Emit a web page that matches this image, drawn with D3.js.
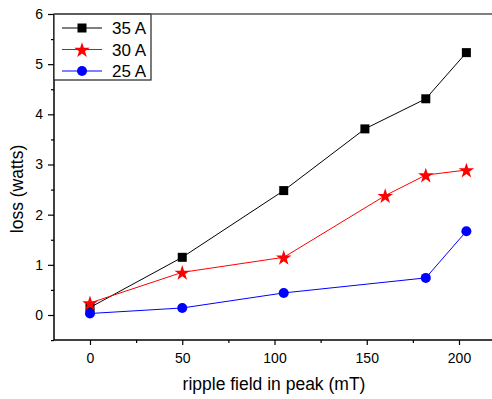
<!DOCTYPE html>
<html><head><meta charset="utf-8">
<script src="https://cdn.jsdelivr.net/npm/d3@7"></script>
<style>body{margin:0;background:#fff}svg{display:block;font-family:Arial,"Liberation Sans",sans-serif}</style>
</head><body><svg id="c" width="492" height="399"></svg>
<script>
const seriesNames = ["35 A", "30 A", "25 A"];
const seriesColors = ["#000000", "#ff0000", "#0000ff"];
const seriesShapes = ["square", "star", "circle"];
const x35 = [0, 50, 105, 149, 182, 204];
const y35 = [0.15, 1.15, 2.48, 3.71, 4.31, 5.23];
const x30 = [0, 50, 105, 160, 182, 204];
const y30 = [0.24, 0.85, 1.15, 2.38, 2.79, 2.89];
const x25 = [0, 50, 105, 182, 204];
const y25 = [0.03, 0.14, 0.44, 0.74, 1.67];
const xTicks = [0, 50, 100, 150, 200];
const yTicks = [0, 1, 2, 3, 4, 5, 6];
const xLabel = "ripple field in peak (mT)";
const yLabel = "loss (watts)";

const svg = d3.select("#c");
const L = 54, T = 14, B = 340;
const xs = d3.scaleLinear().domain([0, 200]).range([90, 459]);
const y = d3.scaleLinear().domain([0, 6]).range([315, 14]);
const R = 500;
const FF = "Arial, 'Liberation Sans', sans-serif";

// x axis
const xMinor = d3.range(25, 226, 50);
const gx = svg.append("g").attr("transform", `translate(0,${B})`);
gx.append("line").attr("x1", L).attr("x2", R).attr("stroke", "#000").attr("stroke-width", 1.5);
gx.append("g").call(d3.axisBottom(xs).tickValues(xTicks).tickSize(5).tickPadding(8).tickFormat(d3.format("d")));
gx.append("g").call(d3.axisBottom(xs).tickValues(xMinor).tickSize(3).tickFormat(""));
gx.selectAll(".domain").remove();
gx.selectAll("text").attr("font-size", 14).attr("fill", "#000").attr("font-family", FF);
gx.selectAll(".tick line").attr("stroke", "#000").attr("stroke-width", 1.2);

// y axis
const yMinor = d3.range(-0.5, 6, 1);
const gy = svg.append("g").attr("transform", `translate(${L},0)`);
gy.append("line").attr("y1", T).attr("y2", B).attr("stroke", "#000").attr("stroke-width", 1.5);
gy.append("g").call(d3.axisLeft(y).tickValues(yTicks).tickSize(6).tickPadding(5).tickFormat(d3.format("d")));
gy.append("g").call(d3.axisLeft(y).tickValues(yMinor).tickSize(3).tickFormat(""));
gy.selectAll(".domain").remove();
gy.selectAll("text").attr("font-size", 14).attr("fill", "#000").attr("font-family", FF);
gy.selectAll(".tick line").attr("stroke", "#000").attr("stroke-width", 1.2);

// labels
svg.append("text").attr("x", 274).attr("y", 390).attr("text-anchor", "middle")
  .attr("font-size", 17.5).text(xLabel);
svg.append("text").attr("transform", "translate(23,189) rotate(-90)").attr("text-anchor", "middle")
  .attr("font-size", 17.5).text(yLabel);

const star = d3.symbol().type(d3.symbolStar).size(75);
function marker(g, shape, color, cx, cy) {
  if (shape === "square") {
    g.append("rect").attr("x", cx - 4.5).attr("y", cy - 4.5).attr("width", 9).attr("height", 9).attr("fill", color);
  } else if (shape === "circle") {
    g.append("circle").attr("cx", cx).attr("cy", cy).attr("r", 5).attr("fill", color);
  } else {
    g.append("path").attr("d", star()).attr("transform", `translate(${cx},${cy + 0.8})`).attr("fill", color);
  }
}

const data = [[x35, y35], [x30, y30], [x25, y25]];
const line = d3.line().x(d => xs(d[0])).y(d => y(d[1]));
data.forEach(([xv, yv], i) => {
  const pts = xv.map((v, j) => [v, yv[j]]);
  const g = svg.append("g");
  g.append("path").attr("d", line(pts)).attr("fill", "none").attr("stroke", seriesColors[i]).attr("stroke-width", 1);
  pts.forEach(p => marker(g, seriesShapes[i], seriesColors[i], xs(p[0]), y(p[1])));
});

// legend
const lg = svg.append("g");
lg.append("rect").attr("x", L).attr("y", T).attr("width", 97).attr("height", 66)
  .attr("fill", "#fff").attr("stroke", "#222").attr("stroke-width", 1.2);
seriesNames.forEach((n, i) => {
  const cy = 28 + i * 21.5;
  lg.append("line").attr("x1", 62).attr("x2", 102).attr("y1", cy).attr("y2", cy)
    .attr("stroke", seriesColors[i]).attr("stroke-width", 1);
  marker(lg, seriesShapes[i], seriesColors[i], 82, cy);
  lg.append("text").attr("x", 112).attr("y", cy + 6).attr("font-size", 17).text(n);
});
// top frame line
svg.append("line").attr("x1", L).attr("x2", R).attr("y1", T).attr("y2", T)
  .attr("stroke", "#555").attr("stroke-width", 1.5);
</script></body></html>
